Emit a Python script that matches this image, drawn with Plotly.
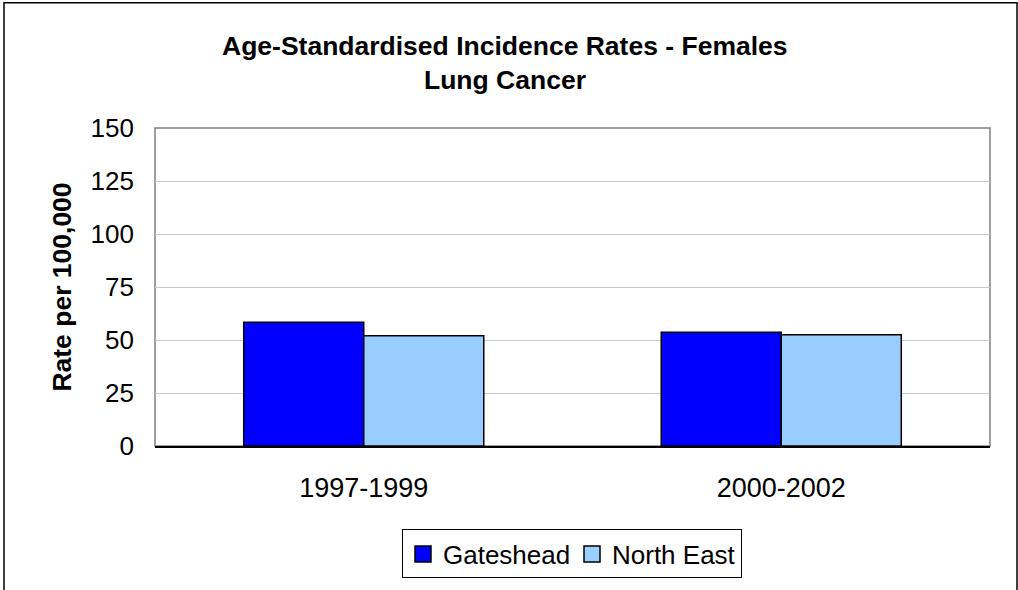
import plotly.graph_objects as go

categories = ["1997-1999", "2000-2002"]
gateshead = [58.4, 53.6]
north_east = [52.0, 52.5]
y_ticks = [0, 25, 50, 75, 100, 125, 150]

FONT = "Liberation Sans, Arial, sans-serif"
W, H = 1018, 590
L, R, T, B = 155, 28, 128, 142
pw, ph = W - L - R, H - T - B

def px_x(x):
    return (x - L) / pw

def px_y(y):
    return (H - B - y) / ph

fig = go.Figure()
fig.add_bar(name="Gateshead", x=categories, y=gateshead,
            marker=dict(color="#0000FF", line=dict(color="black", width=1.5)),
            showlegend=False)
fig.add_bar(name="North East", x=categories, y=north_east,
            marker=dict(color="#99CCFF", line=dict(color="black", width=1.5)),
            showlegend=False)
# legend entries
fig.add_scatter(name="Gateshead", x=[None], y=[None], mode="markers",
                marker=dict(symbol="square", size=17, color="#0000FF",
                            line=dict(color="black", width=1.5)))
fig.add_scatter(name="North East", x=[None], y=[None], mode="markers",
                marker=dict(symbol="square", size=17, color="#99CCFF",
                            line=dict(color="black", width=1.5)))

fig.update_layout(
    width=W, height=H,
    margin=dict(l=L, r=R, t=T, b=B),
    paper_bgcolor="white", plot_bgcolor="white",
    font=dict(family=FONT, color="black", size=26),
    barmode="group", bargap=0.425, bargroupgap=0,
    legend=dict(orientation="h", x=px_x(402), xanchor="left",
                y=px_y(532), yanchor="top",
                bordercolor="black", borderwidth=1, bgcolor="white",
                font=dict(size=26), itemwidth=30,
                entrywidth=124, entrywidthmode="pixels",
                tracegroupgap=0),
    xaxis=dict(showgrid=False, showline=True, linecolor="black", linewidth=1.5,
               ticks="", ticklabelstandoff=17, tickfont=dict(size=27)),
    yaxis=dict(range=[0, 150], tickvals=y_ticks, showgrid=True,
               gridcolor="#C8C8C8", gridwidth=1, zeroline=False,
               ticks="", ticklabelstandoff=20, tickfont=dict(size=26),
               title=dict(text="<b>Rate per 100,000</b>", font=dict(size=26.5),
                          standoff=11)),
    shapes=[
        dict(type="rect", xref="paper", yref="paper", x0=0, x1=1, y0=0, y1=1,
             line=dict(color="#808080", width=1.5), layer="below"),
        dict(type="rect", xref="paper", yref="paper",
             x0=px_x(4), x1=px_x(1017), y0=px_y(600), y1=px_y(2),
             line=dict(color="black", width=1.5), layer="below"),
    ],
    annotations=[
        dict(text="<b>Age-Standardised Incidence Rates - Females</b>",
             xref="paper", yref="paper", x=px_x(505), y=px_y(45),
             xanchor="center", yanchor="middle", showarrow=False,
             font=dict(size=26.5)),
        dict(text="<b>Lung Cancer</b>",
             xref="paper", yref="paper", x=px_x(505), y=px_y(80),
             xanchor="center", yanchor="middle", showarrow=False,
             font=dict(size=26.5)),
    ],
)

fig.write_html("out.html",
               config={"displayModeBar": False},
               post_script="document.body.style.margin='0';"
                           "document.body.style.overflow='hidden';")
